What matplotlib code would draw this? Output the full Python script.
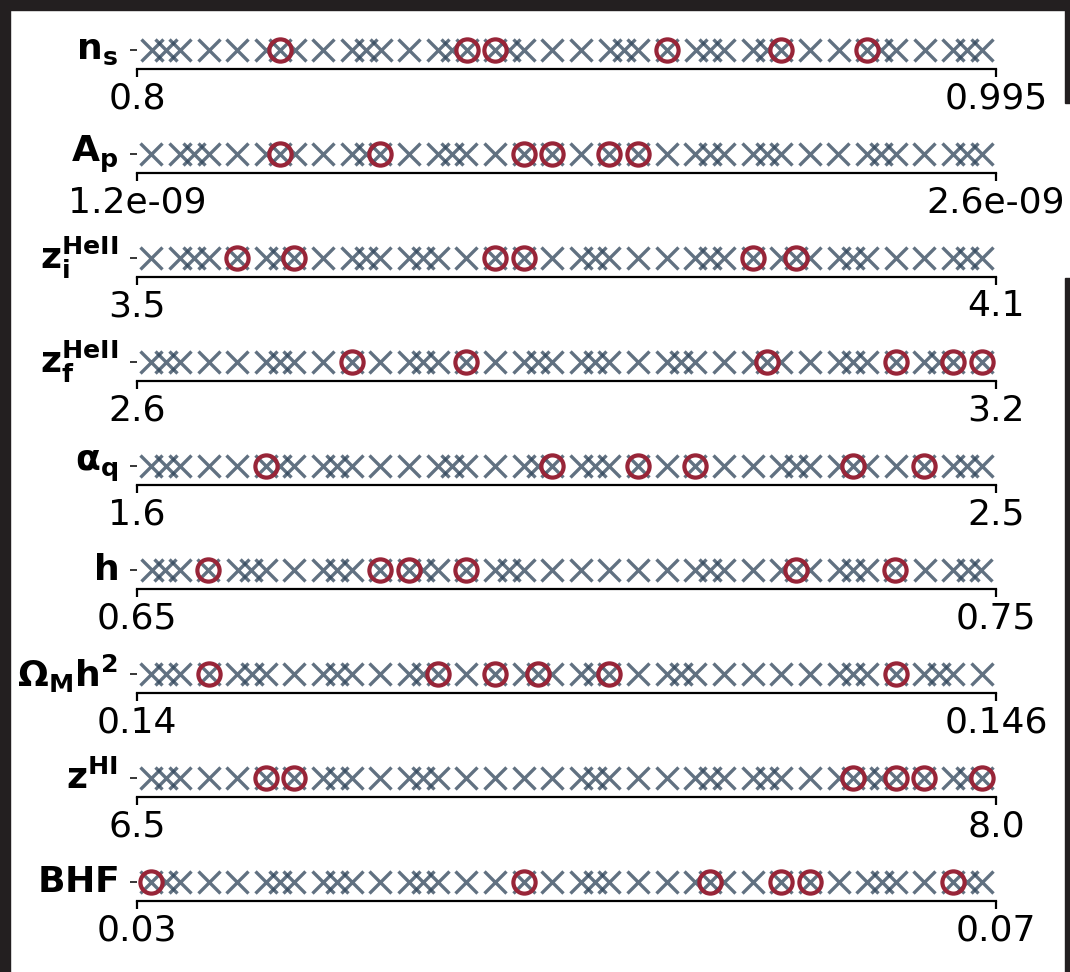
import matplotlib
matplotlib.use("Agg")
import matplotlib.pyplot as plt
from matplotlib.patches import Rectangle
import numpy as np

plt.rcParams['font.family'] = 'DejaVu Sans'
plt.rcParams['mathtext.fontset'] = 'dejavusans'

# ---- data: low-fidelity design (initial hypercube + added points) and high-fidelity points
ns_lh = [0.8033, 0.8098, 0.8163, 0.8228, 0.8293, 0.8358, 0.8423, 0.8488, 0.8553, 0.8618,
         0.8683, 0.8748, 0.8813, 0.8878, 0.8943, 0.9008, 0.9073, 0.9138, 0.9203, 0.9268,
         0.9333, 0.9398, 0.9463, 0.9528, 0.9593, 0.9658, 0.9723, 0.9788, 0.9853, 0.9918]
ns_add = [0.8065, 0.8325, 0.852, 0.8715, 0.8845, 0.9105, 0.93, 0.943, 0.969, 0.9885]
ns_hf = [0.8325, 0.8748, 0.8813, 0.9203, 0.9463, 0.9658]

ap_lh = [1.2233, 1.2700, 1.3167, 1.3633, 1.4100, 1.4567, 1.5033, 1.5500, 1.5967, 1.6433,
         1.6900, 1.7367, 1.7833, 1.8300, 1.8767, 1.9233, 1.9700, 2.0167, 2.0633, 2.1100,
         2.1567, 2.2033, 2.2500, 2.2967, 2.3433, 2.3900, 2.4367, 2.4833, 2.5300, 2.5767]
ap_add = [1.2933, 1.4333, 1.5733, 1.7133, 2.1333, 2.2267, 2.4133, 2.5533]
ap_hf = [1.4333, 1.5967, 1.8300, 1.8767, 1.9700, 2.0167]

zi_lh = [3.51, 3.53, 3.55, 3.57, 3.59, 3.61, 3.63, 3.65, 3.67, 3.69,
         3.71, 3.73, 3.75, 3.77, 3.79, 3.81, 3.83, 3.85, 3.87, 3.89,
         3.91, 3.93, 3.95, 3.97, 3.99, 4.01, 4.03, 4.05, 4.07, 4.09]
zi_add = [3.54, 3.60, 3.66, 3.70, 3.82, 3.90, 3.96, 4.00, 4.08]
zi_hf = [3.57, 3.61, 3.75, 3.77, 3.93, 3.96]

zf_lh = [2.61, 2.63, 2.65, 2.67, 2.69, 2.71, 2.73, 2.75, 2.77, 2.79,
         2.81, 2.83, 2.85, 2.87, 2.89, 2.91, 2.93, 2.95, 2.97, 2.99,
         3.01, 3.03, 3.05, 3.07, 3.09, 3.11, 3.13, 3.15, 3.17, 3.19]
zf_add = [2.62, 2.70, 2.80, 2.88, 2.92, 2.98, 3.04, 3.10, 3.16]
zf_hf = [2.75, 2.83, 3.04, 3.13, 3.17, 3.19]

aq_lh = [1.615, 1.645, 1.675, 1.705, 1.735, 1.765, 1.795, 1.825, 1.855, 1.885,
         1.915, 1.945, 1.975, 2.005, 2.035, 2.065, 2.095, 2.125, 2.155, 2.185,
         2.215, 2.245, 2.275, 2.305, 2.335, 2.365, 2.395, 2.425, 2.455, 2.485]
aq_add = [1.63, 1.75, 1.81, 1.93, 2.02, 2.08, 2.29, 2.35, 2.47]
aq_hf = [1.735, 2.035, 2.125, 2.185, 2.35, 2.425]

h_lh = [0.6517, 0.6550, 0.6583, 0.6617, 0.6650, 0.6683, 0.6717, 0.6750, 0.6783, 0.6817,
        0.6850, 0.6883, 0.6917, 0.6950, 0.6983, 0.7017, 0.7050, 0.7083, 0.7117, 0.7150,
        0.7183, 0.7217, 0.7250, 0.7283, 0.7317, 0.7350, 0.7383, 0.7417, 0.7450, 0.7483]
h_add = [0.6533, 0.6633, 0.6733, 0.6833, 0.6933, 0.7167, 0.7267, 0.7333, 0.7467]
h_hf = [0.6583, 0.6783, 0.6817, 0.6883, 0.7267, 0.7383]

om_lh = [0.1401, 0.1403, 0.1405, 0.1407, 0.1409, 0.1411, 0.1413, 0.1415, 0.1417, 0.1419,
         0.1421, 0.1423, 0.1425, 0.1427, 0.1429, 0.1431, 0.1433, 0.1435, 0.1437, 0.1439,
         0.1441, 0.1443, 0.1445, 0.1447, 0.1449, 0.1451, 0.1453, 0.1455, 0.1457, 0.1459]
om_add = [0.1402, 0.1408, 0.1414, 0.1420, 0.1428, 0.1432, 0.1438, 0.1450, 0.1456]
om_hf = [0.1405, 0.1421, 0.1425, 0.1428, 0.1433, 0.1453]

zhi_lh = [6.525, 6.575, 6.625, 6.675, 6.725, 6.775, 6.825, 6.875, 6.925, 6.975,
          7.025, 7.075, 7.125, 7.175, 7.225, 7.275, 7.325, 7.375, 7.425, 7.475,
          7.525, 7.575, 7.625, 7.675, 7.725, 7.775, 7.825, 7.875, 7.925, 7.975]
zhi_add = [6.55, 6.85, 7.00, 7.30, 7.50, 7.60, 7.75, 7.80, 7.95]
zhi_hf = [6.725, 6.775, 7.75, 7.825, 7.875, 7.975]

bhf_lh = [0.03067, 0.03200, 0.03333, 0.03467, 0.03600, 0.03733, 0.03867, 0.04000, 0.04133, 0.04267,
          0.04400, 0.04533, 0.04667, 0.04800, 0.04933, 0.05067, 0.05200, 0.05333, 0.05467, 0.05600,
          0.05733, 0.05867, 0.06000, 0.06133, 0.06267, 0.06400, 0.06533, 0.06667, 0.06800, 0.06933]
bhf_add = [0.03133, 0.03667, 0.03933, 0.04333, 0.05133, 0.05667, 0.06467, 0.06867]
bhf_hf = [0.03067, 0.04800, 0.05667, 0.06000, 0.06133, 0.06800]

labels = [r'$\mathbf{n_s}$', r'$\mathbf{A_p}$', r'$\mathbf{z_i^{HeII}}$', r'$\mathbf{z_f^{HeII}}$',
          r'$\mathbf{\alpha_q}$', r'$\mathbf{h}$', r'$\mathbf{\Omega_M h^2}$', r'$\mathbf{z^{HI}}$',
          r'$\mathbf{BHF}$']
lows = [0.8, 1.2e-9, 3.5, 2.6, 1.6, 0.65, 0.14, 6.5, 0.03]
highs = [0.995, 2.6e-9, 4.1, 3.2, 2.5, 0.75, 0.146, 8.0, 0.07]
tick_text = [('0.8', '0.995'), ('1.2e-09', '2.6e-09'), ('3.5', '4.1'), ('2.6', '3.2'),
             ('1.6', '2.5'), ('0.65', '0.75'), ('0.14', '0.146'), ('6.5', '8.0'), ('0.03', '0.07')]

lf_sets = [ns_lh + ns_add,
           [v * 1e-9 for v in ap_lh + ap_add],
           zi_lh + zi_add,
           zf_lh + zf_add,
           aq_lh + aq_add,
           h_lh + h_add,
           om_lh + om_add,
           zhi_lh + zhi_add,
           bhf_lh + bhf_add]
hf_sets = [ns_hf, [v * 1e-9 for v in ap_hf], zi_hf, zf_hf, aq_hf, h_hf, om_hf, zhi_hf, bhf_hf]

cross_col = '#34495e'
circ_col = '#982538'

W, H = 1070, 972
fig = plt.figure(figsize=(W / 100, H / 100), dpi=100)

for i in range(9):
    ym = 50 + 104 * i   # pixel row of the markers
    ax = fig.add_axes([137 / W, 1 - (ym + 19) / H, 859 / W, 38 / H])
    lf = np.array(lf_sets[i])
    hf = np.array(hf_sets[i])
    ax.plot(lf, np.zeros_like(lf), 'x', color=cross_col, alpha=0.78,
            ms=15.5, mew=2.4, clip_on=False)
    ax.plot(hf, np.zeros_like(hf), 'o', mfc='none', mec=circ_col,
            ms=16, mew=3.0, clip_on=False)
    ax.set_xlim(lows[i], highs[i])
    ax.set_ylim(-1, 1)
    ax.set_xticks([lows[i], highs[i]])
    ax.set_xticklabels(tick_text[i], fontsize=26)
    ax.set_yticks([0])
    ax.set_yticklabels([])
    for s in ['left', 'top', 'right']:
        ax.spines[s].set_visible(False)
    ax.spines['bottom'].set_linewidth(1.6)
    ax.tick_params(axis='x', length=6, width=1.6, pad=3)
    ax.tick_params(axis='y', length=5, width=1.3, color='#262626')
    ax.set_ylabel(labels[i], rotation=0, fontsize=26, ha='right', va='center')
    ax.yaxis.set_label_coords(-0.022, 0.5)
    ax.patch.set_alpha(0)

# dark screen border around the picture
dark = '#231f20'
fig.patches.append(Rectangle((0, 1 - 10 / H), 1, 10 / H, transform=fig.transFigure, color=dark))
fig.patches.append(Rectangle((0, 0), 10 / W, 1, transform=fig.transFigure, color=dark))
fig.patches.append(Rectangle((1065 / W, 1 - 103 / H), 5 / W, 93 / H, transform=fig.transFigure, color=dark))
fig.patches.append(Rectangle((1065 / W, 0), 5 / W, 1 - 278 / H, transform=fig.transFigure, color=dark))

fig.savefig('out.png', dpi=100)
